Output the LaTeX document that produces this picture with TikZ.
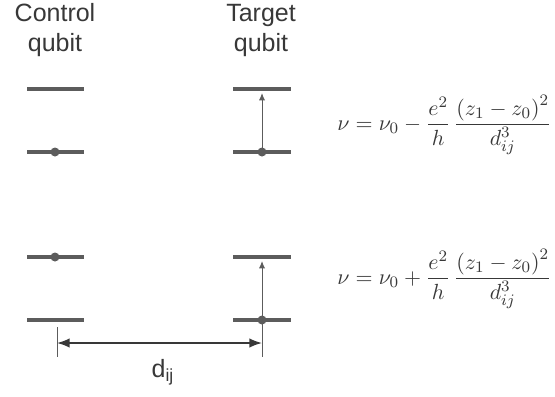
\documentclass[tikz,border=0pt]{standalone}
\usepackage{amsmath}
\usepackage{fontspec}
\setsansfont{Liberation Sans}
\usepackage{tikz}
\usetikzlibrary{arrows.meta,positioning}
\definecolor{level}{HTML}{5C5C5C}
\definecolor{ink}{HTML}{383838}
\tikzset{
  >={Latex[length=2mm]},
  lvl/.style={line width=1.6pt,draw=level},
  pop/.style={circle,fill=level,inner sep=0pt,minimum size=4.5pt},
  qlabel/.style={align=center,font=\sffamily\fontsize{12.5}{15}\selectfont,text=ink},
  eqn/.style={anchor=base west,inner sep=0pt,text=ink,font=\fontsize{11}{13}\selectfont},
  trans/.style={-{Latex[length=1.3mm,width=1.1mm]},line width=0.5pt,draw=level},
  dimline/.style={{Latex[length=2.2mm]}-{Latex[length=2.2mm]},line width=0.8pt,draw=ink},
  dimtick/.style={line width=0.4pt,draw=level}
}
\begin{document}
\begin{tikzpicture}[x=0.5pt,y=-0.5pt]
  \useasboundingbox (0,0) rectangle (555,396);
  % qubit labels
  \node[qlabel] (ctl) at (55,30) {Control\\qubit};
  \node[qlabel] (tgt) at (261,30) {Target\\qubit};
  % energy levels, upper pair and lower pair
  \foreach \p/\yt/\yb/\yc in {u/89/152/152, l/257/320/257}
  {
    \draw[lvl] (27,\yt) -- (84,\yt);
    \draw[lvl] (27,\yb) -- (84,\yb);
    \draw[lvl] (233,\yt) coordinate (top\p) -- (291,\yt);
    \draw[lvl] (233,\yb) -- (291,\yb);
    \node[pop] (cdot\p) at (55,\yc) {};
    \node[pop] (tdot\p) at (262,\yb) {};
    \coordinate (tup\p) at (262,\yt+4);
    \draw[trans] (tdot\p.center) -- (tup\p);
  }
  % formulas
  \node[eqn] (equ) at (337,130)
    {$\displaystyle \nu=\nu_0-\frac{e^2}{h}\,\frac{\left(z_1-z_0\right)^2}{d_{ij}^3}$};
  \node[eqn] (eql) at (337,284)
    {$\displaystyle \nu=\nu_0+\frac{e^2}{h}\,\frac{\left(z_1-z_0\right)^2}{d_{ij}^3}$};
  % distance between the qubits
  \coordinate (dl) at (57,343);
  \coordinate (dr) at (262,343);
  \draw[dimtick] (57,327) -- (57,357);
  \draw[dimtick] (262,324) -- (262,357);
  \draw[dimline] (dl) -- (dr);
  \node[qlabel] (dij) at (163,372) {d$_{\text{ij}}$};
\end{tikzpicture}
\end{document}
